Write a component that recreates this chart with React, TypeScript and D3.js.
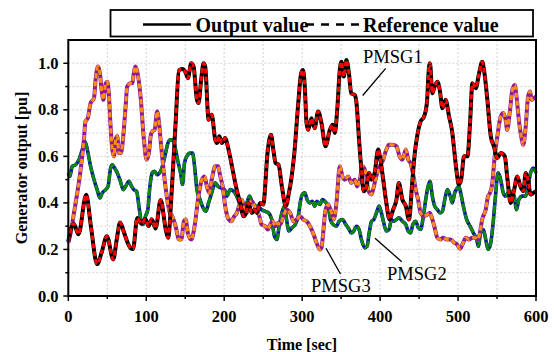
import React from "react";
import * as d3 from "d3";

// ---- data (time in sec, value in pu) ----
const p1T = [0,7,13,23,29,37,43,49.5,57.7,62,66.5,71.5,76,80,83,88.5,94,99,103,107,112,118.5,125,128,133,137.6,142,146,151,153.4,157.7,160.7,165,167,170.5,173.5,175.6,180,184,188.5,190.6,193.6,197,201,205.6,210,216,220.5,224.8,228,231,235.5,239,242,246,250,256,260,263,266,269.7,274,279,283,286,290,295,298.7,301,303.4,305.6,307.7,312,316,320.5,324.8,330,335.5,339,342,345,348.3,350.4,353.4,356.8,360,363,367.5,369.7,373,376,379,382.5,386,389,393,397.5,400.4,404,408,412,416.7,421,424,428.6,433,437,441.5,444.5,447.5,452,456.4,460,462.8,464,467,470,473.5,476.5,480,484,488.5,492.7,495,498.3,501,504,507.7,512,515.4,518.4,522.7,527,531,533.3,537.6,542,546,550.4,554.7,560,563,567.5,572,576,580,583.8,586.8,589.8,593,596.6,600];
const p1V = [0.235,0.31,0.265,0.435,0.30,0.137,0.19,0.257,0.157,0.24,0.316,0.273,0.23,0.205,0.202,0.335,0.31,0.33,0.30,0.33,0.29,0.413,0.286,0.25,0.47,0.74,0.97,0.975,0.957,0.936,1.0,0.986,0.843,0.829,0.93,1.0,0.986,0.757,0.779,0.671,0.657,0.686,0.657,0.679,0.629,0.557,0.457,0.40,0.343,0.357,0.40,0.357,0.371,0.357,0.40,0.393,0.629,0.693,0.629,0.571,0.564,0.471,0.386,0.443,0.50,0.614,0.829,0.957,0.971,0.90,0.743,0.714,0.764,0.721,0.793,0.743,0.643,0.714,0.736,0.70,0.80,0.971,1.007,0.943,1.014,0.957,0.871,0.864,0.829,0.671,0.543,0.45,0.471,0.529,0.50,0.529,0.629,0.586,0.50,0.40,0.329,0.371,0.414,0.486,0.414,0.386,0.329,0.50,0.614,0.686,0.75,0.771,0.829,0.986,1.0,0.871,0.90,0.921,0.886,0.807,0.843,0.771,0.70,0.629,0.529,0.479,0.50,0.60,0.60,0.743,0.914,0.893,0.957,1.007,0.971,0.843,0.686,0.643,0.593,0.614,0.60,0.514,0.40,0.457,0.514,0.471,0.45,0.529,0.50,0.436,0.443,0.45];

const p2T = [0,2,5,9.4,13.7,18,21.4,24.4,28.6,33,37,40.6,43.6,48,51,54.3,56.4,59.4,62.8,66.2,70.5,73.5,77.8,81.2,84,87.6,90.6,93.6,96,99,102,104.7,107.7,110.7,114,118.4,121.8,124.8,127.8,131,134.6,137.6,140.6,144,146.6,149,152,156.4,159.4,162,165,169,172,176.5,180,184,188.5,192,196,200.4,203.4,207.7,212,216,220.5,224.8,229,232.5,236.3,240.6,245,248,252.6,257,261,264.5,267.5,270.5,274,277.4,280,283,286.8,291,295,298,301,303.4,306.4,310,313,316,319,322.7,326,329,333.3,336.3,339.7,344,347.4,351.7,356,360.3,363,366.2,369.7,373,376,380.4,383.3,386,389,392,395.3,398.7,401.7,404.7,408,411.5,414.5,417.5,421,424.4,428.6,433,436,439,442,445.7,449,452,455.5,458.5,461.5,464,467,470,473.5,477,480,483,486.3,490,492.7,495.7,499,501,503.4,506.8,511,515.4,519.7,524,526,529,532.5,535.5,538.5,542,545,548,551.3,554.7,558,561,564,567.5,572,575,578,582.5,586.8,589.8,593,596.6,600];
const p2V = [0.529,0.514,0.557,0.564,0.586,0.629,0.664,0.629,0.557,0.50,0.457,0.421,0.443,0.457,0.471,0.55,0.564,0.55,0.529,0.50,0.457,0.471,0.493,0.471,0.457,0.45,0.386,0.321,0.307,0.343,0.371,0.471,0.529,0.536,0.521,0.536,0.571,0.614,0.657,0.671,0.671,0.629,0.579,0.529,0.479,0.57,0.60,0.614,0.614,0.557,0.457,0.414,0.386,0.364,0.40,0.443,0.486,0.471,0.464,0.457,0.429,0.457,0.45,0.429,0.393,0.371,0.40,0.429,0.40,0.386,0.379,0.371,0.364,0.357,0.329,0.257,0.243,0.30,0.357,0.386,0.329,0.279,0.293,0.307,0.343,0.41,0.44,0.443,0.414,0.40,0.407,0.386,0.407,0.393,0.414,0.407,0.386,0.329,0.307,0.30,0.321,0.329,0.307,0.286,0.271,0.279,0.30,0.286,0.243,0.207,0.214,0.271,0.321,0.329,0.357,0.386,0.357,0.314,0.279,0.286,0.329,0.321,0.329,0.336,0.321,0.307,0.279,0.271,0.307,0.321,0.293,0.286,0.343,0.414,0.471,0.493,0.429,0.386,0.371,0.357,0.364,0.414,0.457,0.429,0.40,0.443,0.464,0.471,0.443,0.386,0.329,0.30,0.271,0.243,0.214,0.271,0.286,0.243,0.20,0.229,0.314,0.429,0.529,0.50,0.443,0.429,0.443,0.45,0.429,0.371,0.414,0.429,0.429,0.471,0.529,0.55,0.529];

const p3T = [0,3,7.3,11.5,15.8,20,22,25,28.6,33,35,38,40.6,42.7,45,48,50,52,54,56.4,58.5,60.7,62.8,65,67.5,70.5,73.5,75.6,80,82,84,86,88.5,92.7,97,100.4,103.4,105.6,107.7,110.7,114,116,118.4,122.6,127,130.3,133.3,137.6,142,145,148.3,150.5,153.4,157.7,162,167,171.4,174.8,177.8,180.8,184,188.5,192,195,198,201.3,205.6,209,213,216.2,219,222.6,226,229,232,235.5,239,242,245,248,252.6,256,259,262,265.4,268.8,271.8,276,280,284.6,289,293,297.4,301.3,305.6,310,314,318.4,322.7,324.8,327,330,333.3,335.5,339,340.6,344,348.3,351.7,354.7,359,363,367.5,370.5,374,377.4,381.6,384.6,389,392,395,399.6,404,408,411.5,416,421,425,428.6,433,436,439,442,445.7,449,452,456.4,460.7,464,467,470,473.5,477,481,485.5,490.6,495,499,502.6,505.6,510,514,518.4,522.7,525.6,528,531,535.5,538.5,541,544,547,550.4,554.7,558,561,563,566.7,569.7,572.7,575,578,581,583.8,586.8,589.8,592.3,594.5,597.5,600];
const p3V = [0.229,0.27,0.357,0.443,0.543,0.671,0.75,0.764,0.829,0.85,0.929,0.986,0.957,0.886,0.843,0.914,0.921,0.871,0.743,0.629,0.60,0.671,0.686,0.614,0.614,0.686,0.814,0.90,0.914,0.914,0.957,0.986,0.964,0.857,0.671,0.586,0.614,0.686,0.707,0.714,0.793,0.757,0.671,0.529,0.414,0.357,0.343,0.30,0.243,0.243,0.321,0.329,0.271,0.243,0.30,0.429,0.50,0.514,0.471,0.443,0.50,0.557,0.557,0.514,0.471,0.386,0.329,0.321,0.343,0.357,0.386,0.414,0.379,0.357,0.40,0.407,0.386,0.371,0.343,0.307,0.30,0.286,0.307,0.321,0.30,0.314,0.307,0.343,0.371,0.357,0.321,0.329,0.343,0.329,0.321,0.30,0.271,0.229,0.20,0.207,0.271,0.371,0.393,0.379,0.343,0.329,0.40,0.557,0.514,0.50,0.514,0.486,0.50,0.471,0.50,0.557,0.529,0.457,0.436,0.471,0.514,0.557,0.586,0.629,0.65,0.65,0.643,0.60,0.586,0.629,0.586,0.571,0.529,0.457,0.41,0.357,0.343,0.35,0.357,0.329,0.293,0.25,0.243,0.25,0.243,0.243,0.229,0.221,0.203,0.221,0.25,0.243,0.25,0.25,0.243,0.271,0.329,0.371,0.429,0.443,0.486,0.60,0.686,0.771,0.786,0.757,0.714,0.80,0.886,0.907,0.857,0.757,0.686,0.65,0.729,0.857,0.879,0.843,0.85,0.857];

const xTicks = [0, 100, 200, 300, 400, 500, 600];
const yTicks = [0.0, 0.2, 0.4, 0.6, 0.8, 1.0];
const legendLabels = ["Output value", "Reference value"];
const seriesNames = ["PMSG1", "PMSG2", "PMSG3"];
const xTitle = "Time [sec]";
const yTitle = "Generator output [pu]";

const FONT = "'Liberation Serif', 'Times New Roman', serif";

export default function App() {
  const W = 554, H = 352;
  const x = d3.scaleLinear().domain([0, 600]).range([68.3, 536]);
  const y = d3.scaleLinear().domain([0, 1.1]).range([296, 40]);
  const line = (T: number[], V: number[]) =>
    d3.line<number>().x((_, i) => x(T[i])).y((v) => y(v)).curve(d3.curveMonotoneX)(V) || "";

  const series = [
    { d: line(p2T, p2V), out: "#1010b0", ref: "#0c8a0c", ow: 3.6, rw: 3.0, dash: "9,2" },
    { d: line(p3T, p3V), out: "#8a1a9a", ref: "#ff8c10", ow: 4.0, rw: 3.0, dash: "5,3" },
    { d: line(p1T, p1V), out: "#000000", ref: "#ff0000", ow: 4.0, rw: 3.0, dash: "5,3" },
  ];

  const gridX = d3.range(0, 601, 50);
  const gridY = d3.range(0, 11).map((v) => v / 10);

  return (
    <svg width={W} height={H} style={{ position: "absolute", left: 0, top: 0, background: "#fff" }}>
      {/* grid */}
      {gridX.map((t) => (
        <line key={"gx" + t} x1={x(t)} x2={x(t)} y1={y(1.1)} y2={y(0)} stroke="#c8c8c8" strokeWidth={0.8} strokeDasharray="2,2" />
      ))}
      {gridY.map((v) => (
        <line key={"gy" + v} x1={x(0)} x2={x(600)} y1={y(v)} y2={y(v)} stroke="#c8c8c8" strokeWidth={0.8} strokeDasharray="2,2" />
      ))}
      {/* series */}
      {series.map((s, i) => (
        <g key={"s" + i}>
          <path d={s.d} fill="none" stroke={s.out} strokeWidth={s.ow} strokeLinejoin="round" />
          <path d={s.d} fill="none" stroke={s.ref} strokeWidth={s.rw} strokeDasharray={s.dash} />
        </g>
      ))}
      {/* frame */}
      <rect x={x(0)} y={y(1.1)} width={x(600) - x(0)} height={y(0) - y(1.1)} fill="none" stroke="#000" strokeWidth={2} />
      {/* x ticks */}
      {gridX.map((t) => (
        <line key={"tx" + t} x1={x(t)} x2={x(t)} y1={y(0)} y2={y(0) + (t % 100 === 0 ? 5 : 3)} stroke="#000" strokeWidth={1.5} />
      ))}
      {xTicks.map((t) => (
        <text key={"lx" + t} x={x(t)} y={322} textAnchor="middle" fontFamily={FONT} fontWeight="bold" fontSize={16.5}>{t}</text>
      ))}
      {/* y ticks */}
      {gridY.map((v) => (
        <line key={"ty" + v} x1={x(0)} x2={x(0) - (Math.round(v * 10) % 2 === 0 ? 5 : 3)} y1={y(v)} y2={y(v)} stroke="#000" strokeWidth={1.5} />
      ))}
      {yTicks.map((v) => (
        <text key={"ly" + v} x={58.5} y={y(v) + 5.5} textAnchor="end" fontFamily={FONT} fontWeight="bold" fontSize={16.5}>{v.toFixed(1)}</text>
      ))}
      {/* axis titles */}
      <text x={302} y={350} textAnchor="middle" fontFamily={FONT} fontWeight="bold" fontSize={16}>{xTitle}</text>
      <text transform={`translate(27,${(y(0) + y(1.1)) / 2}) rotate(-90)`} textAnchor="middle" fontFamily={FONT} fontWeight="bold" fontSize={16}>{yTitle}</text>
      {/* legend */}
      <rect x={110.5} y={10} width={422.5} height={26.5} fill="#fff" stroke="#000" strokeWidth={1.8} />
      <line x1={143} x2={191} y1={24.5} y2={24.5} stroke="#000" strokeWidth={2.5} />
      <text x={195.5} y={31.5} fontFamily={FONT} fontWeight="bold" fontSize={20}>{legendLabels[0]}</text>
      <line x1={306} x2={360} y1={24.5} y2={24.5} stroke="#000" strokeWidth={2.5} strokeDasharray="8,7" />
      <text x={363} y={31.5} fontFamily={FONT} fontWeight="bold" fontSize={20}>{legendLabels[1]}</text>
      {/* annotations */}
      <line x1={385.7} y1={68.3} x2={362.7} y2={95.5} stroke="#000" strokeWidth={1.3} />
      <text x={363} y={63.3} fontFamily={FONT} fontSize={18.5}>{seriesNames[0]}</text>
      <line x1={375} y1={238.3} x2={401.7} y2={261.7} stroke="#000" strokeWidth={1.3} />
      <text x={387} y={280} fontFamily={FONT} fontSize={18.5}>{seriesNames[1]}</text>
      <line x1={326} y1={248.3} x2={340.5} y2={274} stroke="#000" strokeWidth={1.3} />
      <text x={311} y={291.7} fontFamily={FONT} fontSize={18.5}>{seriesNames[2]}</text>
    </svg>
  );
}
